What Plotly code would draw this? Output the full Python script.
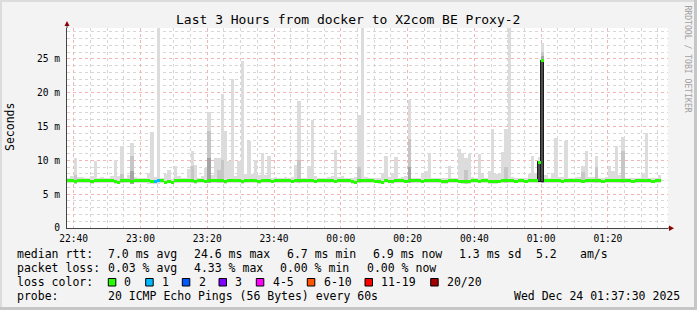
import plotly.graph_objects as go
import pandas as pd

# ---------------- data (ms, one value per minute) ----------------
smoke_max = [
7.4,7.7,10.3,7.5,7.5,7.4,7.4,7.7,9.9,7.4,
7.5,7.4,7.4,7.7,10.1,7.7,12.1,7.4,7.8,12.5,
7.5,7.4,7.4,7.4,8.2,14.2,7.5,29.8,7.4,8.0,
8.5,7.3,9.2,7.7,7.4,7.4,8.7,11.4,9.3,7.4,
7.7,8.8,17.1,7.8,10.3,10.3,19.8,14.3,9.9,22.0,
7.7,9.9,24.7,8.0,12.8,8.0,10.1,7.8,11.1,7.8,
10.7,7.4,7.5,7.4,7.4,7.5,7.4,7.5,9.3,18.8,
7.4,7.4,9.1,16.0,7.7,7.4,7.4,7.4,7.5,7.7,
11.5,7.6,7.7,7.4,7.4,7.4,7.5,16.7,29.8,7.5,
7.4,7.4,7.4,7.4,8.2,10.7,7.5,8.1,10.5,7.4,
7.5,7.7,18.9,7.4,7.4,7.4,8.0,8.4,11.1,7.4,
7.4,7.4,7.4,7.4,9.1,7.4,7.4,11.6,11.1,10.3,
10.9,7.5,7.4,10.9,8.0,7.4,8.4,14.6,8.0,8.1,
11.2,14.7,29.8,7.5,7.4,7.4,7.4,7.4,8.0,10.7,
8.1,10.5,27.4,7.9,7.4,8.2,13.3,7.5,7.6,12.8,
7.4,7.4,7.5,7.6,9.1,11.4,7.6,7.6,10.6,7.4,
7.4,7.6,9.2,8.4,12.1,7.9,13.4,7.4,7.4,7.4,
7.4,7.4,8.2,14.1,7.4,7.4,7.4,7.8]

smoke_min = [
6.6,6.6,6.5,6.6,6.6,6.6,6.6,6.5,6.6,6.6,
6.6,6.6,6.6,6.6,6.5,6.5,6.6,6.6,6.6,6.5,
6.6,6.6,6.6,6.6,6.5,6.5,6.5,6.5,6.6,6.5,
6.6,6.5,6.6,6.6,6.6,6.6,6.6,6.6,6.5,6.6,
6.6,6.6,6.6,6.6,6.6,6.6,6.6,6.5,6.6,6.6,
6.6,6.6,6.5,6.6,6.6,6.6,6.6,6.5,6.6,6.6,
6.6,6.6,6.6,6.6,6.6,6.6,6.6,6.6,6.6,6.6,
6.6,6.6,6.6,6.6,6.6,6.6,6.6,6.6,6.6,6.6,
6.6,6.6,6.6,6.6,6.6,6.5,6.5,6.6,6.6,6.6,
6.6,6.6,6.6,6.5,6.5,6.6,6.6,6.5,6.6,6.6,
6.6,6.6,6.6,6.6,6.6,6.6,6.6,6.6,6.6,6.6,
6.6,6.6,6.5,6.5,6.6,6.6,6.6,6.6,6.5,6.5,
6.5,6.6,6.6,6.6,6.6,6.6,6.5,6.5,6.5,6.6,
6.6,6.6,6.6,6.6,6.6,6.6,6.6,6.6,6.6,6.6,
6.6,6.6,6.7,6.6,6.6,6.6,6.6,6.6,6.6,6.6,
6.6,6.6,6.6,6.6,6.6,6.6,6.6,6.6,6.6,6.6,
6.6,6.6,6.6,6.6,6.6,6.6,6.6,6.6,6.6,6.6,
6.6,6.6,6.6,6.6,6.6,6.6,6.6,6.6]

median = [
7.0,7.0,6.9,7.0,7.0,6.95,7.0,6.9,7.0,7.0,
6.95,7.0,7.0,7.0,6.9,6.75,7.0,6.95,7.0,6.9,
7.0,7.0,6.95,7.0,7.0,6.9,6.9,6.95,7.0,6.75,
6.9,6.75,7.0,6.95,7.0,7.0,6.95,7.0,6.9,7.0,
7.0,6.9,7.0,7.0,6.95,7.0,7.0,6.9,7.0,6.95,
7.0,7.0,6.9,7.0,6.95,7.0,7.0,6.9,7.0,7.0,
6.95,6.9,7.0,7.0,6.95,7.0,7.0,6.9,7.0,7.0,
6.95,7.0,7.0,7.0,6.9,7.0,6.95,7.0,7.0,7.0,
6.9,6.95,7.0,7.0,7.0,6.9,6.75,7.0,7.0,7.0,
6.95,7.0,6.9,6.8,6.75,7.0,6.9,6.8,6.95,7.0,
7.0,6.9,7.0,6.95,7.0,7.0,6.9,7.0,7.0,6.95,
7.0,7.0,6.8,6.8,7.0,6.95,7.0,6.9,6.8,6.8,
6.8,6.95,7.0,6.9,6.95,7.0,6.8,6.8,6.8,6.9,
7.0,7.0,6.95,7.0,6.9,7.0,6.95,6.9,6.95,7.0,
6.95,9.7,24.7,7.0,6.95,7.0,7.0,6.95,6.9,7.0,
7.0,6.95,7.0,7.0,6.9,6.95,7.0,7.0,6.95,7.0,
6.9,6.95,7.0,7.0,6.95,7.0,6.95,7.0,7.0,6.9,
7.0,6.95,7.0,7.0,6.95,6.9,7.0,7.0]

mid_cols = [2, 16, 19, 37, 42, 45, 46, 69, 87, 102, 119, 131, 142, 154, 158, 166]
mid_top  = [7.8, 8.0, 10.7, 9.2, 14.3, 8.5, 10.1, 10.1, 9.0, 13.1, 8.5, 9.0, 26.0, 8.3, 9.0, 11.4]
deep_cols = [19, 42, 102, 142]
deep_top  = [8.4, 10.4, 9.0, 25.4]
core_cols = [141, 142]
core_base = [6.8, 6.8]

loss_cols   = [26, 27]
loss_counts = [1, 1]

loss_labels = ["0", "1", "2", "3", "4-5", "6-10", "11-19", "20/20"]
loss_colors = ["#26ff00", "#00b8ff", "#0059ff", "#7e00ff", "#ff00ff", "#ff5500", "#ff0000", "#a10000"]

y_tickvals = [0, 5, 10, 15, 20, 25]
y_ticktext = ["0", "5 m", "10 m", "15 m", "20 m", "25 m"]

title = "Last 3 Hours from docker to X2com BE Proxy-2"
stat_rtt = ["median rtt:", "7.0 ms avg", "24.6 ms max", "6.7 ms min", "6.9 ms now", "1.3 ms sd", "5.2", "am/s"]
stat_loss = ["packet loss:", "0.03 % avg", "4.33 % max", "0.00 % min", "0.00 % now"]
probe_line = ["probe:", "20 ICMP Echo Pings (56 Bytes) every 60s", "Wed Dec 24 01:37:30 2025"]

start = pd.Timestamp("2025-12-23 22:38:00")
end = pd.Timestamp("2025-12-24 01:38:00")

# ---------------- figure ----------------
W, H = 697, 310
L, R, T, B = 67, 29, 28, 82
PW, PH = W - L - R, H - T - B
YMAX = 29.55

def px(x):
    return (x - L) / PW

def py(y):
    return (H - B - y) / PH

n = len(median)
centers = [start + pd.Timedelta(seconds=60 * i + 30) for i in range(n)]
BW = 60000

fig = go.Figure()

# light smoke
fig.add_trace(go.Bar(x=centers, base=smoke_min,
                     y=[a - b for a, b in zip(smoke_max, smoke_min)],
                     width=BW, marker=dict(color="#dcdcdc", line=dict(width=0)),
                     hoverinfo="skip"))
# medium smoke
fig.add_trace(go.Bar(x=[centers[c] for c in mid_cols],
                     base=[smoke_min[c] for c in mid_cols],
                     y=[t - smoke_min[c] for c, t in zip(mid_cols, mid_top)],
                     width=BW, marker=dict(color="#c6c6c6", line=dict(width=0)),
                     hoverinfo="skip"))
# deeper smoke
fig.add_trace(go.Bar(x=[centers[c] for c in deep_cols],
                     base=[smoke_min[c] for c in deep_cols],
                     y=[t - smoke_min[c] for c, t in zip(deep_cols, deep_top)],
                     width=BW, marker=dict(color="#a4a4a4", line=dict(width=0)),
                     hoverinfo="skip"))
# dense core for the high-latency burst
fig.add_trace(go.Bar(x=[centers[c] for c in core_cols],
                     base=core_base,
                     y=[median[c] - b for c, b in zip(core_cols, core_base)],
                     width=BW, marker=dict(color="#4d4d4d", line=dict(width=1, color="#1a1a1a")),
                     hoverinfo="skip"))
# median line coloured by loss
med_colors = []
for i in range(n):
    col = loss_colors[0]
    if i in loss_cols:
        col = loss_colors[loss_counts[loss_cols.index(i)]]
    med_colors.append(col)
fig.add_trace(go.Bar(x=centers, base=[m - 0.22 for m in median],
                     y=[0.44] * n, width=BW,
                     marker=dict(color=med_colors, line=dict(width=0)),
                     hoverinfo="skip"))

mono = "DejaVu Sans Mono"
fig.update_layout(
    width=W, height=H,
    margin=dict(l=L, r=R, t=T, b=B, pad=0),
    paper_bgcolor="#f3f3f3", plot_bgcolor="#ffffff",
    barmode="overlay", bargap=0, showlegend=False,
    font=dict(family=mono, size=10, color="#000000"),
    xaxis=dict(type="date", range=[start, end],
               tick0="2025-12-23 22:40:00", dtick=20 * 60000, tickformat="%H:%M",
               showgrid=True, gridcolor="#f4b4b4", griddash="dot", gridwidth=1,
               minor=dict(dtick=5 * 60000, tick0="2025-12-23 22:40:00", showgrid=True,
                          gridcolor="#d6d6d6", griddash="dot", gridwidth=1),
               showline=True, linecolor="#444444", linewidth=1,
               ticks="outside", ticklen=1, tickcolor="rgba(0,0,0,0)",
               tickfont=dict(family=mono, size=9.6, color="#000000"),
               zeroline=False, fixedrange=True),
    yaxis=dict(range=[0, YMAX], tickvals=y_tickvals, ticktext=y_ticktext,
               showgrid=True, gridcolor="#f4b4b4", griddash="dot", gridwidth=1,
               minor=dict(dtick=1, showgrid=True, gridcolor="#d6d6d6", griddash="dot", gridwidth=1),
               showline=True, linecolor="#444444", linewidth=1,
               ticks="outside", ticklen=4, tickcolor="rgba(0,0,0,0)",
               tickfont=dict(family=mono, size=9.6, color="#000000"),
               zeroline=False, fixedrange=True),
)

ann = []
def text(s, x, y, size=11.5, color="#000000", anchor="left", angle=0):
    ann.append(dict(text=s, x=px(x), y=py(y), xref="paper", yref="paper",
                    xanchor=anchor, yanchor="middle", showarrow=False, borderpad=0,
                    textangle=angle, font=dict(family=mono, size=size, color=color)))

text(title, 348, 19, size=13, anchor="center")
text("Seconds", 10, 127, size=11.5, anchor="center", angle=-90)
text("RRDTOOL / TOBI OETIKER", 687.5, 59, size=8.1, color="#a0a0a0", anchor="center", angle=90)

rtt_x = [16, 107.3, 193.3, 286, 372.3, 458.3, 535, 579.3]
for s, x in zip(stat_rtt, rtt_x):
    text(s, x, 254.3)
loss_x = [16, 107.3, 193.3, 279.3, 365.7]
for s, x in zip(stat_loss, loss_x):
    text(s, x, 268.3)
text("loss color:", 16, 282.3)
box_x = [108.3, 145.7, 182.3, 219, 256.3, 307.3, 365, 430.7]
lab_x = [123.3, 161, 197.7, 234.3, 271.7, 322.7, 380, 445.7]
shapes = []
for lab, colr, bx, lx in zip(loss_labels, loss_colors, box_x, lab_x):
    text(lab, lx, 282.3)
    shapes.append(dict(type="rect", xref="paper", yref="paper",
                       x0=px(bx), x1=px(bx + 7.5), y0=py(286), y1=py(278.5),
                       fillcolor=colr, line=dict(color="#000000", width=1)))
probe_x = [16, 107.3, 513.3]
for s, x in zip(probe_line, probe_x):
    text(s, x, 296)

# axis extensions and arrows
shapes.append(dict(type="line", xref="paper", yref="paper", x0=px(67), x1=px(67), y0=py(28), y1=py(24),
                   line=dict(color="#444444", width=1)))
shapes.append(dict(type="path", xref="paper", yref="paper",
                   path=f"M {px(64.5)},{py(26)} L {px(69.5)},{py(26)} L {px(67)},{py(21)} Z",
                   fillcolor="#8b0000", line=dict(width=0)))
shapes.append(dict(type="line", xref="paper", yref="paper", x0=px(668), x1=px(670), y0=py(228), y1=py(228),
                   line=dict(color="#444444", width=1)))
shapes.append(dict(type="path", xref="paper", yref="paper",
                   path=f"M {px(669)},{py(225.5)} L {px(669)},{py(231)} L {px(674)},{py(228.2)} Z",
                   fillcolor="#8b0000", line=dict(width=0)))
# frame
for x0, x1, y0, y1, c in [(0, 697, 0, 2, "#dcdcdc"), (0, 2, 0, 310, "#dcdcdc"),
                          (694, 697, 0, 310, "#c6c6c6"), (0, 697, 307, 310, "#c6c6c6")]:
    shapes.append(dict(type="rect", xref="paper", yref="paper", x0=px(x0), x1=px(x1),
                       y0=py(y1), y1=py(y0), fillcolor=c, line=dict(width=0), layer="above"))

fig.update_layout(annotations=ann, shapes=shapes)
fig.write_html("out.html", config={"displayModeBar": False})
